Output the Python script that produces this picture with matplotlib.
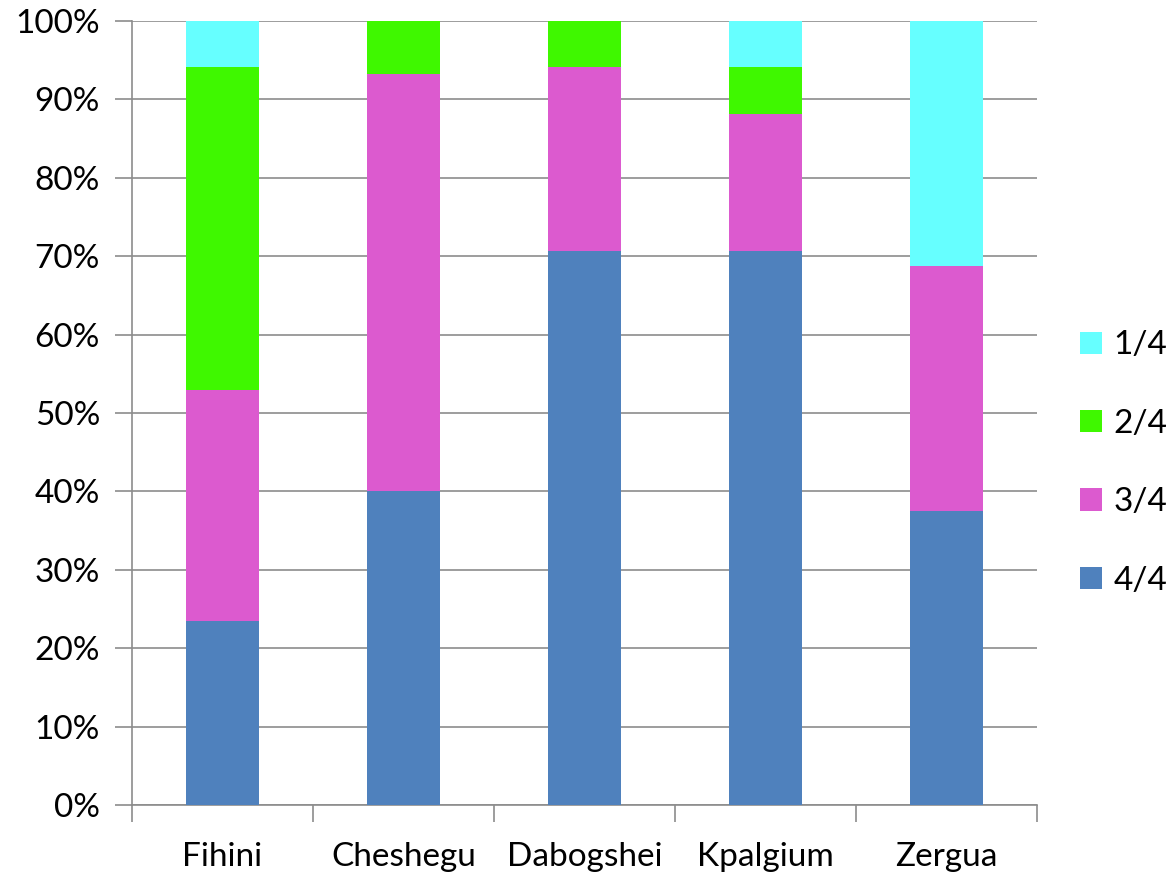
import matplotlib.pyplot as plt
import numpy as np

# share of each rating per site (%), bottom to top
sites = ['Fihini', 'Cheshegu', 'Dabogshei', 'Kpalgium', 'Zergua']
four_four = [23.5, 40.0, 70.6, 70.6, 37.5]
three_four = [29.4, 53.3, 23.5, 17.6, 31.25]
two_four = [41.2, 6.7, 5.9, 5.9, 0.0]
one_four = [5.9, 0.0, 0.0, 5.9, 31.25]

plt.rcParams['font.family'] = ['Lato', 'DejaVu Sans']
fs = 24

fig = plt.figure(figsize=(11.69, 8.73), dpi=100)
ax = fig.add_axes([132 / 1169, 1 - 805 / 873, 905 / 1169, 784 / 873])

x = np.arange(len(sites))
w = 0.4
series = [
    ('4/4', four_four, '#4F81BD'),
    ('3/4', three_four, '#DC5ACF'),
    ('2/4', two_four, '#3FF800'),
    ('1/4', one_four, '#66FFFF'),
]
bottom = np.zeros(len(sites))
handles = []
for name, vals, col in series:
    b = ax.bar(x, vals, w, bottom=bottom, color=col, label=name, zorder=3)
    handles.append(b)
    bottom += np.array(vals)

ax.set_xlim(-0.5, len(sites) - 0.5)
ax.set_ylim(0, 100)
ax.set_yticks(np.arange(0, 101, 10))
ax.set_yticklabels(['%d%%' % v for v in range(0, 101, 10)], fontsize=fs)
ax.yaxis.grid(True, color='#8c8c8c', linewidth=1.2, zorder=0)
ax.tick_params(axis='y', length=12, width=1.2, color='#8c8c8c', pad=11)

# category ticks sit between the bars
ax.set_xticks(np.arange(-0.5, len(sites)), minor=False)
ax.set_xticklabels([])
ax.set_xticks(x, minor=True)
ax.set_xticklabels(sites, minor=True, fontsize=fs)
ax.tick_params(axis='x', which='major', length=12, width=1.2, color='#8c8c8c')
ax.tick_params(axis='x', which='minor', length=0, pad=27)

for s in ['top', 'right']:
    ax.spines[s].set_visible(False)
for s in ['left', 'bottom']:
    ax.spines[s].set_color('#8c8c8c')
    ax.spines[s].set_linewidth(1.2)

leg = fig.legend(handles[::-1], [h.get_label() for h in handles[::-1]],
                 loc='center left', bbox_to_anchor=(1080 / 1169, 1 - 463 / 873),
                 frameon=False, fontsize=fs, handlelength=0.65, handleheight=0.65,
                 labelspacing=1.45, handletextpad=0.35, borderpad=0, borderaxespad=0)

fig.savefig('out.png', dpi=100)
